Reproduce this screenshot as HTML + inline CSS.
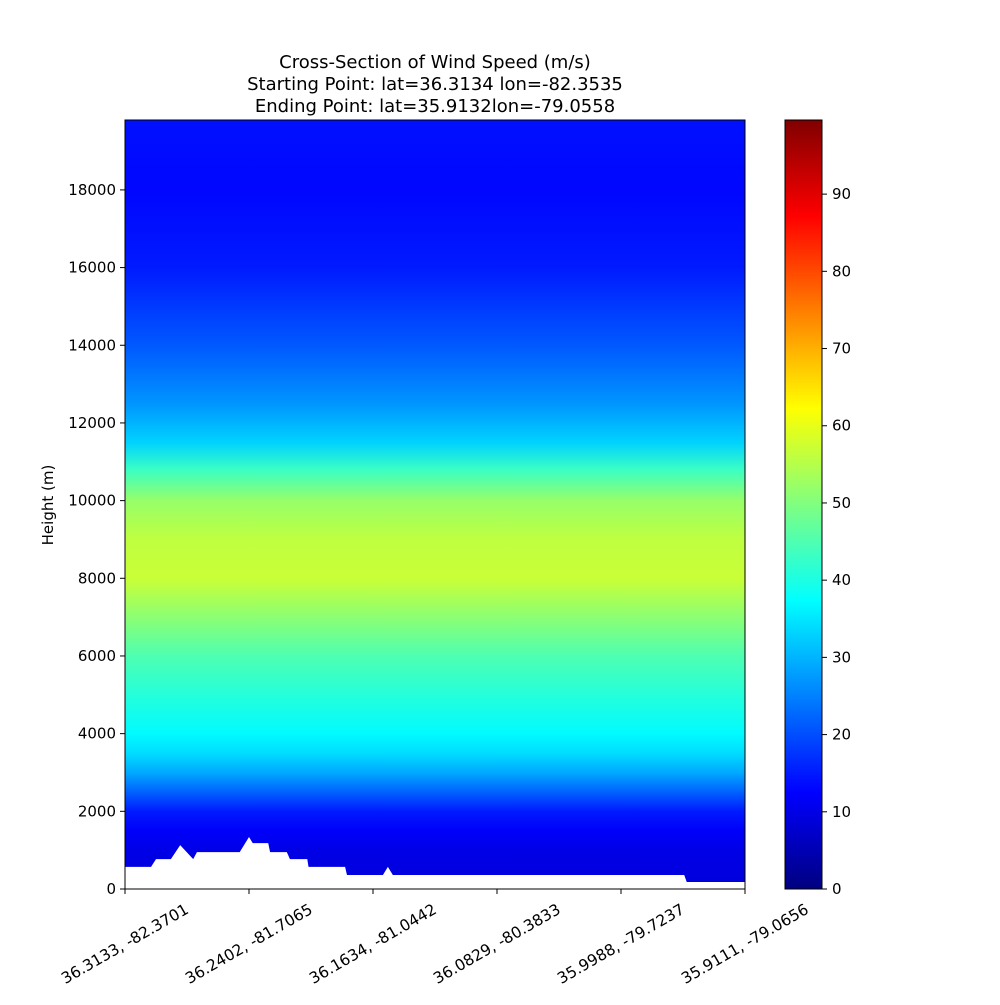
<!DOCTYPE html>
<html><head><meta charset="utf-8"><style>
body{margin:0;background:#fff;font-family:"Liberation Sans","DejaVu Sans",sans-serif;}
svg text{font-family:"DejaVu Sans","Liberation Sans",sans-serif;}
</style></head><body>
<svg id="chart" width="1000" height="1000" xmlns="http://www.w3.org/2000/svg">
<rect width="1000" height="1000" fill="#fff"/>
<text x="435" y="68" font-size="18" text-anchor="middle">Cross-Section of Wind Speed (m/s)</text>
<text x="435" y="90" font-size="18" text-anchor="middle">Starting Point: lat=36.3134 lon=-82.3535</text>
<text x="435" y="112" font-size="18" text-anchor="middle">Ending Point: lat=35.9132lon=-79.0558</text>
<defs>
<linearGradient id="prof" x1="0" y1="1" x2="0" y2="0"></linearGradient>
<linearGradient id="cbar" x1="0" y1="1" x2="0" y2="0"></linearGradient>
</defs>
<g id="plot"></g>
<g id="cb"></g>
</svg>
<script>
const heights=[0,1000,1500,2000,2500,3000,3500,4000,5000,6000,7000,8000,9000,10000,10800,11500,12500,14000,16000,18000,19800];
const speeds=[9,10,12,15,22,29,34,37,41,45,51,57,56,52,43,33,27,21,15,13,14];
const terrainDist=[0,4.2,5.0,7.4,8.9,11.0,11.6,18.5,20.0,20.6,23.1,23.4,26.1,26.6,29.4,29.6,35.5,35.8,41.6,42.4,43.2,90.2,90.6,100];
const terrainH=[570,570,770,770,1130,770,950,950,1340,1180,1180,950,950,770,770,570,570,360,360,570,360,360,180,180];
const yTicks=[0,2000,4000,6000,8000,10000,12000,14000,16000,18000];
const xLabels=["36.3133, -82.3701","36.2402, -81.7065","36.1634, -81.0442","36.0829, -80.3833","35.9988, -79.7237","35.9111, -79.0656"];
const cbTicks=[0,10,20,30,40,50,60,70,80,90];
const L=125,R=745,T=120,B=889,yMax=19800,vMax=99.6,dMax=100;
const NS="http://www.w3.org/2000/svg";
const ys=h=>B-(h/yMax)*(B-T);
const xs=d=>L+(d/dMax)*(R-L);
const cs=v=>B-(v/vMax)*(B-T);
function jet(t){t=Math.max(0,Math.min(1,t));
const r=Math.max(0,Math.min(1,Math.min(4*t-1.5,-4*t+4.5)));
const g=Math.max(0,Math.min(1,Math.min(4*t-0.5,-4*t+3.5)));
const b=Math.max(0,Math.min(1,Math.min(4*t+0.5,-4*t+2.5)));
return `rgb(${Math.round(r*255)},${Math.round(g*255)},${Math.round(b*255)})`;}
function el(tag,attrs,parent){const e=document.createElementNS(NS,tag);for(const k in attrs)e.setAttribute(k,attrs[k]);parent.appendChild(e);return e;}
const prof=document.getElementById('prof');
heights.forEach((h,i)=>{el('stop',{offset:(h/yMax),'stop-color':jet(speeds[i]/vMax)},prof);});
const cbg=document.getElementById('cbar');
for(let i=0;i<=40;i++){el('stop',{offset:i/40,'stop-color':jet(i/40)},cbg);}
const plot=document.getElementById('plot');
const field=el('rect',{x:L,y:T,width:R-L,height:B-T,fill:'url(#prof)'},plot);


let pts=`${xs(0)},${B} `+terrainDist.map((d,i)=>`${xs(d)},${ys(terrainH[i])}`).join(' ')+` ${xs(dMax)},${B}`;
const terr=el('polygon',{points:pts,fill:'#fff'},plot);


const frame=el('rect',{x:L,y:T,width:R-L,height:B-T,fill:'none',stroke:'#000','stroke-width':1},plot);


yTicks.forEach(v=>{const y=ys(v);
el('line',{x1:L-5,x2:L,y1:y,y2:y,stroke:'#000'},plot);
const t=el('text',{x:L-9,y:y+5,'font-size':15,'text-anchor':'end'},plot);t.textContent=v;

});
xLabels.forEach((lab,i)=>{const x=L+i*(R-L)/(xLabels.length-1);
el('line',{x1:x,x2:x,y1:B,y2:B+5,stroke:'#000'},plot);
const cy=B+60;
const t=el('text',{x:x,y:cy,'font-size':15.5,'text-anchor':'middle',transform:`rotate(-30 ${x} ${cy-5})`},plot);t.textContent=lab;

});
const yt=el('text',{x:53,y:505,'font-size':15,'text-anchor':'middle',transform:'rotate(-90 53 505)'},plot);yt.textContent='Height (m)';


const cb=document.getElementById('cb');
const cr=el('rect',{x:785,y:T,width:37,height:B-T,fill:'url(#cbar)',stroke:'#000'},cb);


cbTicks.forEach(v=>{const y=cs(v);
el('line',{x1:822,x2:827,y1:y,y2:y,stroke:'#000'},cb);
const t=el('text',{x:832,y:y+5,'font-size':15},cb);t.textContent=v;

});
</script>
</body></html>
